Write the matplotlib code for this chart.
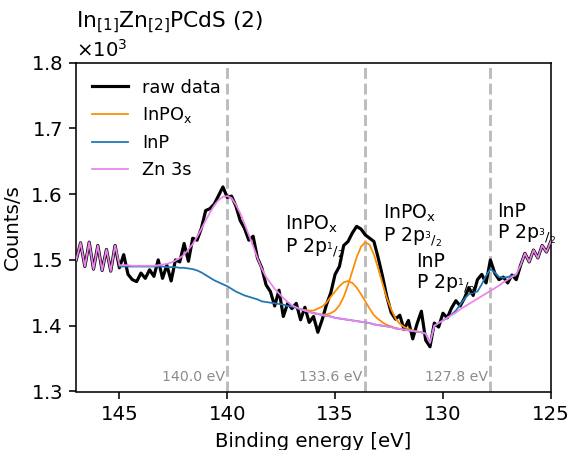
import numpy as np
import matplotlib
matplotlib.use("Agg")
import matplotlib.pyplot as plt

# binding energy grid of the measurement [eV]
energy = np.linspace(147.0, 125.0, 111)
fit_energy = np.linspace(145.0, 126.6, 93)
inpox_energy = np.linspace(136.6, 131.0, 29)

# raw spectrum [counts/s]
raw_counts = [
    1500, 1526, 1490, 1527, 1486, 1522, 1484, 1516, 1483, 1522,
    1488, 1508, 1478, 1470, 1467, 1480, 1472, 1485, 1475, 1500,
    1472, 1492, 1468, 1500, 1497, 1525, 1498, 1533, 1530, 1548,
    1575, 1578, 1585, 1598, 1611, 1595, 1597, 1582, 1560, 1548,
    1530, 1536, 1503, 1488, 1462, 1452, 1430, 1454, 1414, 1434,
    1426, 1434, 1409, 1428, 1405, 1414, 1390, 1409, 1432, 1450,
    1478, 1490, 1522, 1528, 1541, 1551, 1547, 1538, 1533, 1528,
    1503, 1475, 1444, 1420, 1410, 1416, 1394, 1408, 1380, 1403,
    1422, 1378, 1368, 1404, 1398, 1419, 1412, 1427, 1438, 1430,
    1442, 1458, 1446, 1470, 1478, 1465, 1500, 1480, 1470, 1474,
    1465, 1477, 1470, 1492, 1510, 1497, 1515, 1503, 1522, 1512,
    1528,
]

# fitted components (background included)
zn3s_fit = [
    1492, 1492, 1492, 1491, 1491, 1491, 1491, 1491, 1491, 1492,
    1493, 1494, 1496, 1499, 1503, 1508, 1516, 1524, 1535, 1547,
    1560, 1572, 1583, 1591, 1596, 1597, 1594, 1584, 1571, 1555,
    1538, 1521, 1503, 1487, 1474, 1465, 1456, 1449, 1442, 1436,
    1431, 1428, 1425, 1423, 1421, 1419, 1418, 1416, 1415, 1414,
    1412, 1411, 1410, 1409, 1408, 1407, 1406, 1405, 1404, 1402,
    1401, 1400, 1399, 1398, 1396, 1395, 1394, 1393, 1392, 1391,
    1390, 1388, 1374, 1400, 1404, 1408, 1412, 1416, 1420, 1425,
    1429, 1433, 1437, 1441, 1445, 1449, 1453, 1457, 1461, 1466,
    1470, 1474, 1478,
]

inp_fit = [
    1490, 1490, 1490, 1490, 1490, 1490, 1490, 1490, 1490, 1490,
    1490, 1489, 1489, 1489, 1488, 1488, 1487, 1486, 1484, 1481,
    1477, 1473, 1469, 1466, 1463, 1460, 1456, 1452, 1449, 1446,
    1444, 1442, 1440, 1437, 1436, 1435, 1434, 1433, 1432, 1430,
    1429, 1427, 1425, 1423, 1421, 1419, 1418, 1416, 1415, 1414,
    1412, 1411, 1410, 1409, 1408, 1407, 1406, 1405, 1404, 1402,
    1401, 1400, 1399, 1398, 1396, 1395, 1394, 1393, 1392, 1391,
    1390, 1388, 1374, 1400, 1404, 1408, 1412, 1417, 1423, 1432,
    1441, 1448, 1450, 1452, 1463, 1476, 1486, 1481, 1474, 1473,
    1474, 1476, 1478,
]

inpox_half = [  # P 2p1/2
    1425, 1424, 1423, 1423, 1426, 1429, 1435, 1444, 1452, 1460,
    1466, 1468, 1465, 1458, 1448, 1437, 1426, 1416, 1410, 1405,
    1401, 1399, 1396, 1395, 1394, 1393, 1392, 1391, 1390,
]
inpox_three_half = [  # P 2p3/2
    1425, 1423, 1421, 1419, 1418, 1417, 1417, 1419, 1423, 1431,
    1444, 1462, 1483, 1504, 1520, 1527, 1523, 1508, 1487, 1464,
    1442, 1425, 1411, 1403, 1398, 1395, 1393, 1391, 1390,
]

marker_energies = [140.0, 133.6, 127.8]

labels = [
    (137.32, 1571, r"InPO$_\mathregular{x}$" + "\n" + r"P 2p$_{{}^{1}/{}_{2}}$"),
    (132.77, 1587, r"InPO$_\mathregular{x}$" + "\n" + r"P 2p$_{{}^{3}/{}_{2}}$"),
    (131.24, 1512, "InP\n" + r"P 2p$_{{}^{1}/{}_{2}}$"),
    (127.48, 1588, "InP\n" + r"P 2p$_{{}^{3}/{}_{2}}$"),
]

raw = np.array(raw_counts)
n_left = int(np.sum(energy > 145.05))
n_right = int(np.sum(energy < 126.55))
zn_line = np.concatenate([raw[:n_left], zn3s_fit, raw[len(raw) - n_right:]])

dpi = 142
fig = plt.figure(figsize=(569 / dpi, 450 / dpi), dpi=dpi)
ax = fig.add_axes([0.134, 0.130, 0.834, 0.731])

for e in marker_energies:
    ax.axvline(e, color="#bdbdbd", ls="--", lw=1.5, zorder=0.5)
    ax.text(e + 0.12, 1322, f"{e:.1f} eV", ha="right", va="center",
            color="#8c8c8c", fontsize=7.2)

ax.plot(energy, raw, color="black", lw=1.6, label="raw data", zorder=1)
ax.plot(inpox_energy, inpox_half, color="darkorange", lw=0.9,
        label=r"InPO$_\mathregular{x}$", zorder=2)
ax.plot(inpox_energy, inpox_three_half, color="darkorange", lw=0.9, zorder=2)
ax.plot(fit_energy, inp_fit, color="#1f77b4", lw=0.9, label="InP", zorder=3)
ax.plot(energy, zn_line, color="violet", lw=0.9, label="Zn 3s", zorder=4)

for x, y, s in labels:
    ax.text(x, y, s, ha="left", va="top", fontsize=9.6, linespacing=1.1)

ax.set_xlim(147, 125)
ax.set_ylim(1300, 1800)
ax.set_xticks([145, 140, 135, 130, 125])
ax.set_yticks([1300, 1400, 1500, 1600, 1700, 1800])
ax.ticklabel_format(axis="y", style="sci", scilimits=(0, 0), useMathText=True)
ax.set_xlabel("Binding energy [eV]")
ax.set_ylabel("Counts/s")
ax.set_title(r"In$_{\mathregular{[1]}}$Zn$_{\mathregular{[2]}}$PCdS (2)",
             loc="left", fontsize=11)

ax.legend(loc="upper left", frameon=False, fontsize=9)

fig.savefig("out.png", dpi=dpi)
